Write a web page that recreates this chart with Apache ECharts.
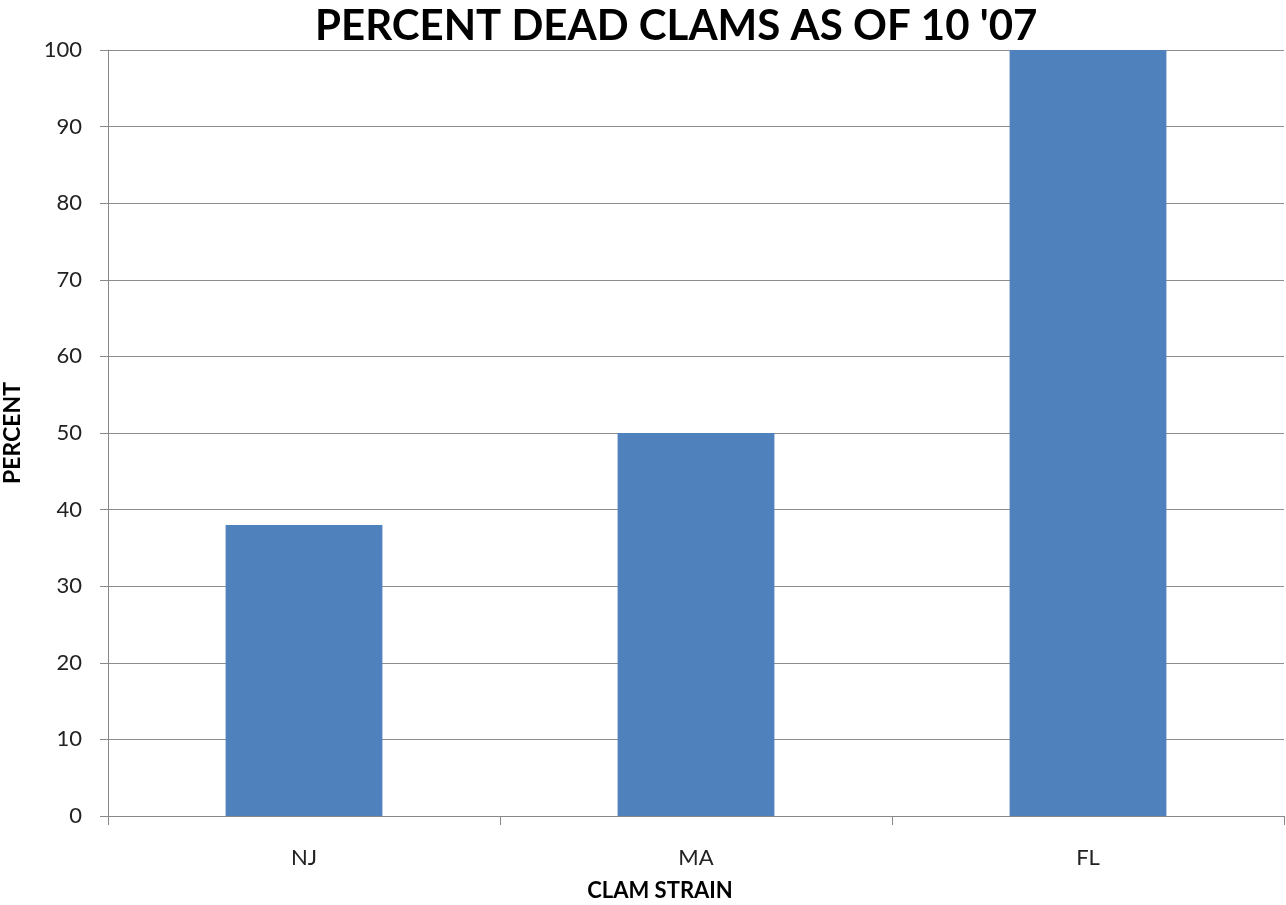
<!DOCTYPE html>
<html>
<head>
<meta charset="utf-8">
<script src="https://cdn.jsdelivr.net/npm/echarts@6/dist/echarts.min.js"></script>
<style>
  html, body { margin: 0; padding: 0; background: #fff; }
  #chart { width: 1286px; height: 905px; }
</style>
</head>
<body>
<div id="chart"></div>
<script>
// Clam strains and the share of dead clams in each
const strains = ['NJ', 'MA', 'FL'];
const percentDead = [38, 50, 100];

const chart = echarts.init(document.getElementById('chart'));
const font = 'Lato, "Open Sans", sans-serif';

chart.setOption({
  animation: false,
  title: {
    text: "PERCENT DEAD CLAMS AS OF 10 '07",
    left: 310,
    top: 0,
    textStyle: { fontFamily: font, fontWeight: 'bold', fontSize: 42, color: '#000' }
  },
  grid: { left: 108, right: 2, top: 50, bottom: 89, containLabel: false, outerBoundsMode: 'none' },
  xAxis: {
    type: 'category',
    data: strains,
    name: 'CLAM STRAIN',
    nameLocation: 'middle',
    nameGap: 64,
    nameTextStyle: { fontFamily: font, fontWeight: 'bold', fontSize: 22, color: '#000', padding: [0, 72, 0, 0] },
    axisLine: { lineStyle: { color: '#888', width: 1 } },
    axisTick: { show: true, length: 9, lineStyle: { color: '#888' } },
    axisLabel: { fontFamily: font, fontSize: 22, color: '#222', margin: 31 }
  },
  yAxis: {
    type: 'value',
    min: 0,
    max: 100,
    interval: 10,
    name: 'PERCENT',
    nameLocation: 'middle',
    nameGap: 84,
    nameRotate: 90,
    nameTextStyle: { fontFamily: font, fontWeight: 'bold', fontSize: 23, color: '#000' },
    axisLine: { show: true, lineStyle: { color: '#888', width: 1 } },
    axisTick: { show: true, length: 8, lineStyle: { color: '#888' } },
    axisLabel: { fontFamily: font, fontSize: 22, color: '#222', margin: 26 },
    splitLine: { lineStyle: { color: '#8c8c8c', width: 1 } }
  },
  series: [{
    type: 'bar',
    data: percentDead,
    barCategoryGap: '60%',
    itemStyle: { color: '#4F81BD' }
  }]
});
</script>
</body>
</html>
